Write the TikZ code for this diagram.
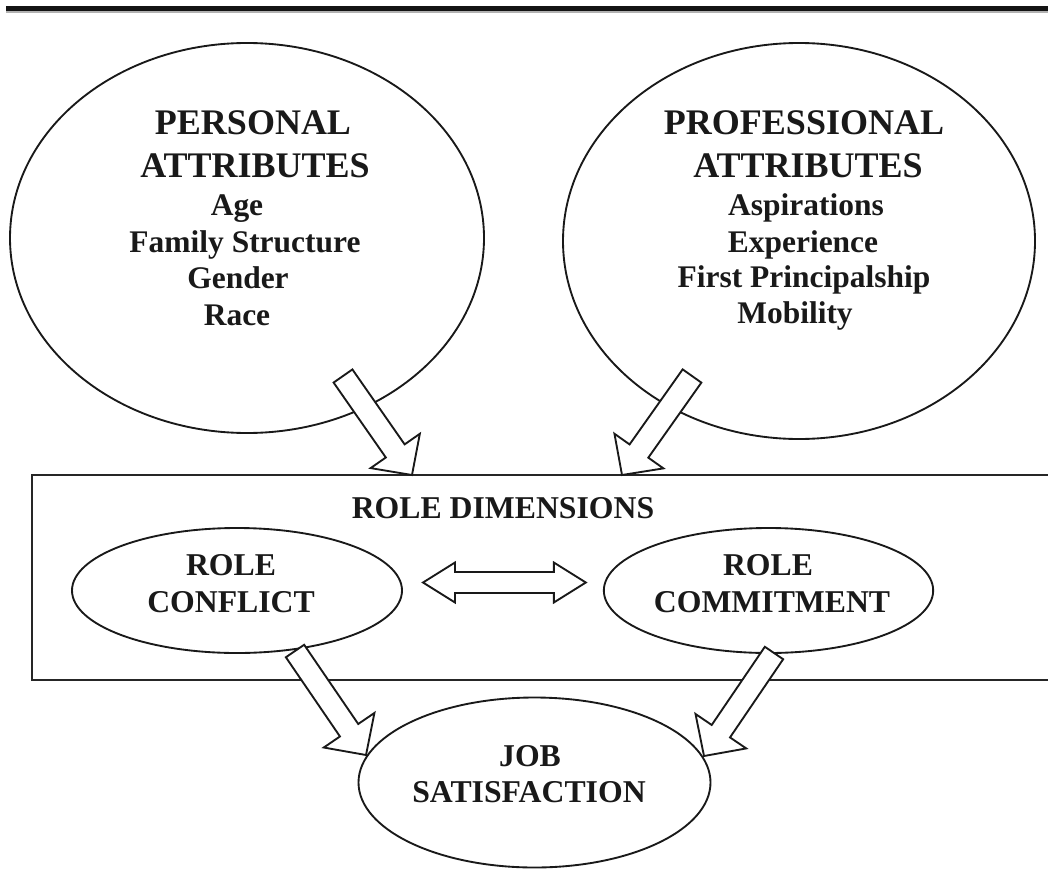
\documentclass[tikz,border=0pt]{standalone}
\usepackage{fontspec}
\setmainfont{Liberation Serif}
\usetikzlibrary{shapes.geometric,calc}
\tikzset{
  every node/.style={inner sep=0pt, outer sep=0pt},
  shapeline/.style={draw=black!90, line width=1.4pt},
  bigell/.style={shapeline, ellipse},
  boxline/.style={draw=black!85, line width=1.9pt},
  arrowline/.style={draw=black!90, fill=white, line width=1.4pt, line join=miter},
  headtxt/.style={anchor=base, font=\fontsize{27}{27}\selectfont\bfseries, text=black!90},
  itemtxt/.style={anchor=base, font=\fontsize{23.6}{23.6}\selectfont\bfseries, text=black!90},
  roletxt/.style={anchor=base, font=\fontsize{23.8}{23.8}\selectfont\bfseries, text=black!90},
}
\newcommand\blkarrow[5]{%
  \coordinate (hb) at ($(#2)!#5!(#1)$);
  \filldraw[arrowline] ($(#1)!#3!90:(#2)$) -- ($(hb)!#3!90:(#2)$) -- ($(hb)!#4!90:(#2)$) -- (#2)
    -- ($(hb)!#4!-90:(#2)$) -- ($(hb)!#3!-90:(#2)$) -- ($(#1)!#3!-90:(#2)$) -- cycle;
}
\begin{document}
\begin{tikzpicture}[x=0.75pt, y=-0.75pt]
\useasboundingbox (0,0) rectangle (1048,888);
\clip (0,0) rectangle (1048,888);
\fill[white] (0,0) rectangle (1048,888);
% top rule
\draw[black!30, line width=1.6pt] (6,12) -- (1048,12);
\draw[black!92, line width=3.4pt] (6,8.5) -- (1048,8.5);

% role dimensions box
\draw[boxline] (32,475) rectangle (1070,680);
\node[roletxt] (rd) at (503,518) {ROLE DIMENSIONS};

% big ellipses
\node[bigell, minimum width=355.5pt, minimum height=292.5pt] (pa) at (247,238) {};
\node[bigell, minimum width=354pt, minimum height=297pt] (pr) at (799,241) {};

\node[headtxt] (pa1) at (253,135) {PERSONAL};
\node[headtxt] (pa2) at (255,177) {ATTRIBUTES};
\node[itemtxt] (pa3) at (237,215) {Age};
\node[itemtxt] (pa4) at (245,252) {Family Structure};
\node[itemtxt] (pa5) at (238,288) {Gender};
\node[itemtxt] (pa6) at (237,325) {Race};

\node[headtxt] (pr1) at (804,135) {PROFESSIONAL};
\node[headtxt] (pr2) at (808,177) {ATTRIBUTES};
\node[itemtxt] (pr3) at (806,215) {Aspirations};
\node[itemtxt] (pr4) at (803,252) {Experience};
\node[itemtxt] (pr5) at (804,287) {First Principalship};
\node[itemtxt] (pr6) at (795,323) {Mobility};

% role ellipses
\node[bigell, minimum width=247.5pt, minimum height=93.75pt] (rc) at (237,590.5) {};
\node[roletxt] (rc1) at (231,575) {ROLE};
\node[roletxt] (rc2) at (231,612) {CONFLICT};
\node[bigell, minimum width=247pt, minimum height=93.75pt] (rm) at (768.5,590.5) {};
\node[roletxt] (rm1) at (768,575) {ROLE};
\node[roletxt] (rm2) at (772,612) {COMMITMENT};

% job satisfaction
\node[bigell, minimum width=264pt, minimum height=127.5pt] (js) at (534.5,782.5) {};
\node[roletxt] (js1) at (530,766) {JOB};
\node[roletxt] (js2) at (529,802) {SATISFACTION};

% arrow end points
\coordinate (s1) at (343,376);
\coordinate (t1) at (412,475);
\coordinate (s2) at (692,376);
\coordinate (t2) at (622,475);
\coordinate (s3) at (295,651);
\coordinate (t3) at (366,755);
\coordinate (s4) at (774,653);
\coordinate (t4) at (704,756);

\blkarrow{s1}{t1}{8.6pt}{22.5pt}{22pt}
\blkarrow{s2}{t2}{8.6pt}{22.5pt}{22pt}
\blkarrow{s3}{t3}{8.3pt}{23pt}{22.5pt}
\blkarrow{s4}{t4}{8.3pt}{23pt}{22.5pt}

% double arrow between role ellipses
\coordinate (d1) at ([shift={(21,-8)}]rc.east);
\coordinate (d2) at ([shift={(-18,-8)}]rm.west);
\coordinate (hb1) at ($(d1)!24pt!(d2)$);
\coordinate (hb2) at ($(d2)!24pt!(d1)$);
\filldraw[arrowline] (d1) -- ($(hb1)!15pt!90:(d2)$) -- ($(hb1)!7.9pt!90:(d2)$)
  -- ($(hb2)!7.9pt!-90:(d1)$) -- ($(hb2)!15pt!-90:(d1)$) -- (d2)
  -- ($(hb2)!15pt!90:(d1)$) -- ($(hb2)!7.9pt!90:(d1)$)
  -- ($(hb1)!7.9pt!-90:(d2)$) -- ($(hb1)!15pt!-90:(d2)$) -- cycle;
\end{tikzpicture}
\end{document}
